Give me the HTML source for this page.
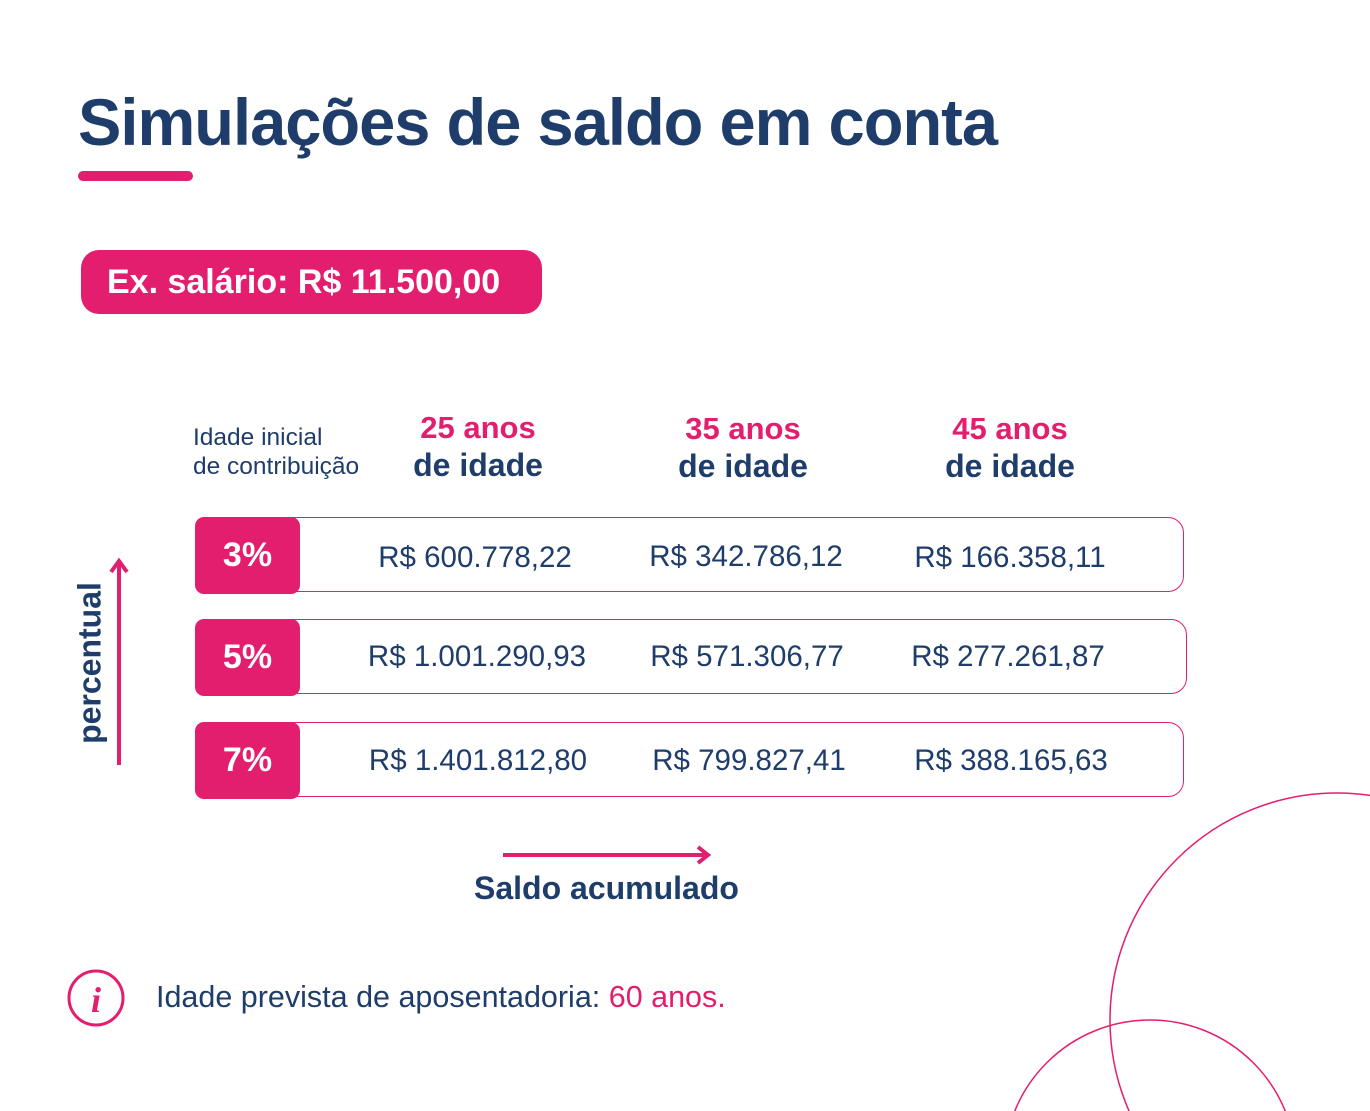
<!DOCTYPE html>
<html><head><meta charset="utf-8"><style>
html,body{margin:0;padding:0;overflow:hidden;width:1370px;height:1111px;}
body{position:relative;background:#fff;font-family:"Liberation Sans",sans-serif;color:#1f3d6b;}
.a{position:absolute;white-space:nowrap;}
.title{left:78px;top:84px;font-size:66px;font-weight:bold;letter-spacing:-1px;transform:scaleX(0.985);transform-origin:left;}
.bar{left:78px;top:171px;width:115px;height:10px;background:#e31e6f;border-radius:5px;}
.pill{left:81px;top:250px;width:461px;height:64px;background:#e31e6f;border-radius:18px;color:#fff;font-size:34px;font-weight:bold;line-height:64px;text-indent:26px;}
.lbl{left:193px;top:423px;font-size:24.5px;line-height:29px;}
.hd{width:260px;text-align:center;font-weight:bold;}
.hd .p{color:#e31e6f;font-size:31px;line-height:36px;}
.hd .n{font-size:32px;line-height:38px;}
.row{left:195px;width:989px;height:75px;border:1px solid #e31e6f;border-radius:16px;box-sizing:border-box;}
.pc{left:195px;width:105px;height:77px;background:#e31e6f;border-radius:9px;color:#fff;font-size:34px;font-weight:bold;text-align:center;line-height:77px;}
.v{width:260px;text-align:center;font-size:29.5px;line-height:77px;}
</style></head><body>
<div class="a title">Simulações de saldo em conta</div>
<div class="a bar"></div>
<div class="a pill">Ex. salário: R$ 11.500,00</div>
<div class="a lbl">Idade inicial<br>de contribuição</div>
<div class="a hd" style="left:348px;top:410px"><div class="p">25 anos</div><div class="n">de idade</div></div>
<div class="a hd" style="left:613px;top:411px"><div class="p">35 anos</div><div class="n">de idade</div></div>
<div class="a hd" style="left:880px;top:411px"><div class="p">45 anos</div><div class="n">de idade</div></div>

<div class="a row" style="top:517px"></div>
<div class="a row" style="top:619px;width:992px"></div>
<div class="a row" style="top:722px"></div>
<div class="a pc" style="top:517px">3%</div>
<div class="a pc" style="top:619px">5%</div>
<div class="a pc" style="top:722px">7%</div>

<div class="a v" style="left:345px;top:519px">R$ 600.778,22</div>
<div class="a v" style="left:616px;top:518px">R$ 342.786,12</div>
<div class="a v" style="left:880px;top:519px">R$ 166.358,11</div>
<div class="a v" style="left:347px;top:618px">R$ 1.001.290,93</div>
<div class="a v" style="left:617px;top:618px">R$ 571.306,77</div>
<div class="a v" style="left:878px;top:618px">R$ 277.261,87</div>
<div class="a v" style="left:348px;top:722px">R$ 1.401.812,80</div>
<div class="a v" style="left:619px;top:722px">R$ 799.827,41</div>
<div class="a v" style="left:881px;top:722px">R$ 388.165,63</div>

<div class="a" style="left:90px;top:663px;transform:translate(-50%,-50%) rotate(-90deg);font-size:32px;font-weight:bold;">percentual</div>
<div class="a" style="left:474px;top:870px;font-size:32px;font-weight:bold;">Saldo acumulado</div>
<div class="a" style="left:156px;top:980px;font-size:30.5px;">Idade prevista de aposentadoria: <span style="color:#e31e6f">60 anos.</span></div>

<svg class="a" style="left:0;top:0;overflow:hidden" width="1370" height="1111">
<g stroke="#e31e6f" fill="none" stroke-width="4">
<line x1="119" y1="564" x2="119" y2="765"/>
<polyline points="111,572 119,561 127,572"/>
<line x1="503" y1="855" x2="706" y2="855"/>
<polyline points="698,847 708,855 698,863"/>
</g>
<circle cx="96" cy="998" r="27" stroke="#e31e6f" stroke-width="3" fill="none"/>
<text x="96" y="1012" text-anchor="middle" font-family="Liberation Serif" font-style="italic" font-weight="bold" font-size="36" fill="#e31e6f">i</text>
<circle cx="1337" cy="1020" r="227" stroke="#e31e6f" stroke-width="1.5" fill="none"/>
<circle cx="1150" cy="1166" r="146" stroke="#e31e6f" stroke-width="1.5" fill="none"/>
</svg>
</body></html>
